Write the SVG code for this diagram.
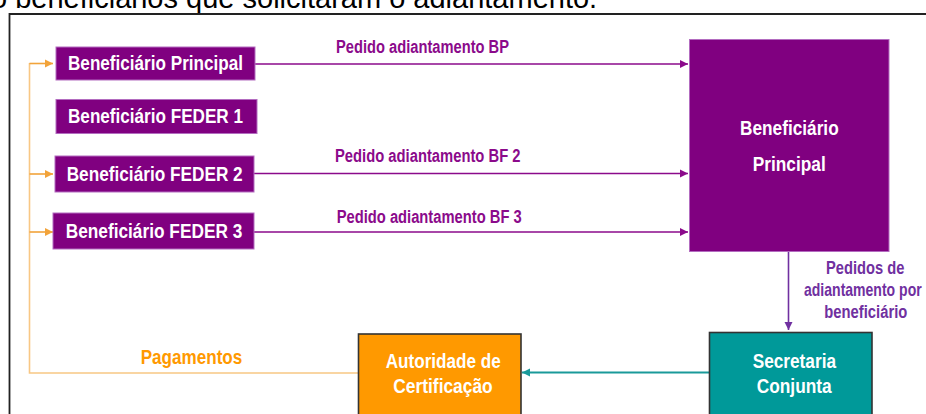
<svg xmlns="http://www.w3.org/2000/svg" width="926" height="414" viewBox="0 0 926 414">
<style>
.n{font-family:"Liberation Sans Narrow","Liberation Sans",Arial,sans-serif;font-weight:bold}
.wt{fill:#ffffff;font-size:21px}
.lbl{fill:#8B0A8B;font-size:18px}
.pbox{fill:#800080;stroke:#B36CC0;stroke-width:1}
.pl{stroke:#8B0A8B;stroke-width:1.6;fill:none}
.ol{stroke:#F8C784;stroke-width:1.6;fill:none}
.oa{stroke:#F2A33A;stroke-width:1.6;fill:none}
</style>
<defs>
<marker id="ap" markerWidth="10" markerHeight="10" refX="9" refY="5" orient="auto" markerUnits="userSpaceOnUse"><path d="M1,1 L9,5 L1,9 Z" fill="#8B0A8B"/></marker>
<marker id="ao" markerWidth="10" markerHeight="10" refX="9" refY="5" orient="auto" markerUnits="userSpaceOnUse"><path d="M1,1 L9,5 L1,9 Z" fill="#F2A33A"/></marker>
<marker id="av" markerWidth="10" markerHeight="10" refX="9" refY="5" orient="auto" markerUnits="userSpaceOnUse"><path d="M1,1 L9,5 L1,9 Z" fill="#7030A0"/></marker>
<marker id="at" markerWidth="10" markerHeight="10" refX="9" refY="5" orient="auto" markerUnits="userSpaceOnUse"><path d="M1,1 L9,5 L1,9 Z" fill="#1A9A9A"/></marker>
</defs>
<rect x="0" y="0" width="926" height="414" fill="#ffffff"/>
<text x="-9" y="8" font-family="'Liberation Sans',Arial,sans-serif" font-size="29" fill="#000000">o beneficiários que solicitaram o adiantamento.</text>
<path d="M9.5,414 V14 H926" stroke="#222222" stroke-width="1.8" fill="none"/>

<g id="connectors">
<path class="pl" d="M255,64 H688" marker-end="url(#ap)"/>
<path class="pl" d="M254,173.5 H688" marker-end="url(#ap)"/>
<path class="pl" d="M254,232 H688" marker-end="url(#ap)"/>
<path class="ol" d="M29.5,63 V373 H358"/>
<path class="oa" d="M29.5,63.5 H53" marker-end="url(#ao)"/>
<path class="oa" d="M29.5,174 H53" marker-end="url(#ao)"/>
<path class="oa" d="M29.5,232 H53" marker-end="url(#ao)"/>
<path d="M788.5,252 V330" stroke="#7030A0" stroke-width="1.6" fill="none" marker-end="url(#av)"/>
<path d="M709,372.5 H522" stroke="#1A9A9A" stroke-width="1.8" fill="none" marker-end="url(#at)"/>
<text class="n lbl" x="336" y="52.7" textLength="173" lengthAdjust="spacingAndGlyphs">Pedido adiantamento BP</text>
<text class="n lbl" x="335" y="161.7" textLength="185.5" lengthAdjust="spacingAndGlyphs">Pedido adiantamento BF 2</text>
<text class="n lbl" x="336.7" y="222.7" textLength="185" lengthAdjust="spacingAndGlyphs">Pedido adiantamento BF 3</text>
<text class="n" x="140.7" y="364.3" font-size="20.5" fill="#FF9900" textLength="101.6" lengthAdjust="spacingAndGlyphs">Pagamentos</text>
<g class="n" font-size="18" fill="#7030A0">
<text x="826" y="274.3" textLength="78.3" lengthAdjust="spacingAndGlyphs">Pedidos de</text>
<text transform="translate(804,296) scale(0.78,1)" x="0" y="0">adiantamento por</text>
<text x="824.3" y="318.3" textLength="83" lengthAdjust="spacingAndGlyphs">beneficiário</text>
</g>
</g>

<g id="bp">
<rect class="pbox" x="56" y="47" width="199" height="33"/>
<text class="n wt" x="68" y="70" textLength="175" lengthAdjust="spacingAndGlyphs">Beneficiário Principal</text>
</g>
<g id="bf1">
<rect class="pbox" x="56" y="99.5" width="201" height="34"/>
<text class="n wt" x="68" y="122.7" textLength="175" lengthAdjust="spacingAndGlyphs">Beneficiário FEDER 1</text>
</g>
<g id="bf2">
<rect class="pbox" x="55" y="156" width="199" height="36"/>
<text class="n wt" x="66.7" y="180.7" textLength="176" lengthAdjust="spacingAndGlyphs">Beneficiário FEDER 2</text>
</g>
<g id="bf3">
<rect class="pbox" x="53" y="213" width="201" height="36"/>
<text class="n wt" x="65.7" y="238.3" textLength="176.6" lengthAdjust="spacingAndGlyphs">Beneficiário FEDER 3</text>
</g>
<g id="bp-big">
<rect class="pbox" x="689.5" y="39.5" width="199.5" height="212"/>
<text class="n wt" x="740" y="135" textLength="98.7" lengthAdjust="spacingAndGlyphs">Beneficiário</text>
<text class="n wt" x="752.7" y="170.7" textLength="73" lengthAdjust="spacingAndGlyphs">Principal</text>
</g>
<g id="ac">
<rect x="358.5" y="334" width="162.5" height="90" fill="#FF9900" stroke="#333333" stroke-width="1.6"/>
<text class="n wt" x="385.7" y="367.7" textLength="115" lengthAdjust="spacingAndGlyphs">Autoridade de</text>
<text class="n wt" x="393.3" y="392.7" textLength="99.4" lengthAdjust="spacingAndGlyphs">Certificação</text>
</g>
<g id="sc">
<rect x="709.5" y="332.5" width="162.5" height="90" fill="#009999" stroke="#333333" stroke-width="1.6"/>
<text class="n wt" x="752.7" y="367.7" textLength="83.3" lengthAdjust="spacingAndGlyphs">Secretaria</text>
<text class="n wt" x="756.7" y="392.7" textLength="75" lengthAdjust="spacingAndGlyphs">Conjunta</text>
</g>
</svg>
